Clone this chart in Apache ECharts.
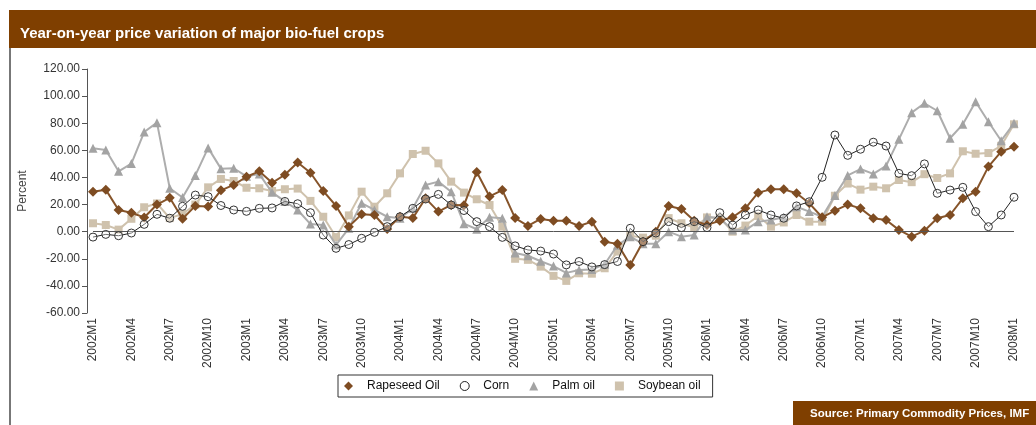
<!DOCTYPE html>
<html>
<head>
<meta charset="utf-8">
<title>Year-on-year price variation of major bio-fuel crops</title>
<script src="https://cdn.jsdelivr.net/npm/echarts@6/dist/echarts.min.js"></script>
<style>
  html, body { margin: 0; padding: 0; background: #fff; }
  #main { width: 1036px; height: 425px; }
</style>
</head>
<body>
<div id="main"></div>
<script>
// monthly categories 2002M1 .. 2008M1
var months = [];
for (var y = 2002; y <= 2008; y++) {
    for (var m = 1; m <= 12; m++) {
        if (y === 2008 && m > 1) break;
        months.push(y + 'M' + m);
    }
}

// year-on-year change, percent
var rapeseed = [29.5, 31, 16, 14, 10.5, 20, 25, 9.5, 19, 18.5,
    30.5, 34.5, 40.5, 44.5, 36, 42, 51, 43.5, 30, 19,
    3.7, 12.8, 12.3, 2, 11, 10, 24.6, 14.8, 19.7, 19.5,
    44, 26, 30.7, 10, 4.2, 9.4, 8.1, 8.1, 4.2, 7.4,
    -7.4, -9, -24.6, -7.4, 0, 19, 16.7, 8.1, 5, 8.1,
    10.6, 17.2, 28.8, 31.2, 31.2, 28.3, 20.9, 10.6, 15.5, 20,
    17.2, 9.9, 8.6, 1.3, -3.7, 0.7, 9.9, 12.3, 24.6, 29.5,
    48, 59, 62.7];

var corn = [-4, -2, -3, -1, 5.4, 12.8, 9.9, 18.7, 27, 25.8,
    19.3, 16, 15, 17.2, 17.5, 22.3, 20.6, 14, -2.5, -12.3,
    -9.5, -4.9, -0.5, 3.7, 11, 17.2, 24.1, 27.5, 19.7, 15.6,
    7.4, 3.7, -4.2, -10.5, -13.5, -14.3, -16.5, -24.5, -22, -26,
    -24.3, -22, 2.5, -7.4, -1, 7.4, 3, 7.4, 3, 14,
    4.9, 12.3, 16, 12.3, 9.9, 19, 22.1, 40.1, 71.3, 56.3,
    60.8, 66, 63.2, 43, 41.3, 50, 28.3, 30.7, 32.7, 14.8,
    3.7, 12.3, 25.4];

var palm = [61.5, 60.2, 44.5, 50.2, 73.5, 80.4, 32, 25.2, 41.5, 61.8,
    46.5, 46.8, 40.8, 42.5, 29, 22.3, 16, 5.6, 5, -9.8,
    2.5, 21, 16, 11, 9.9, 17.2, 34.4, 36.9, 29.5, 5.9,
    1.8, 10.6, 9.9, -15.7, -17.8, -21.8, -25.4, -30.4, -28.3, -28,
    -24, -10, -3.7, -9, -9, 0, -3.7, -2.5, 11, 9.9,
    1.2, 1.2, 7.4, 8.6, 10.6, 18.4, 14.8, 11, 26.6, 41.5,
    46.2, 42.6, 48.5, 68.1, 87.8, 94.7, 89.2, 68.9, 79.2, 95.9,
    81.1, 67.1, 80];

var soybean = [6.2, 4.9, 1.5, 9.5, 18, 20.8, 10, 13, 20, 32.7,
    38.9, 37.4, 32.4, 32, 30, 31.3, 31.8, 22.7, 11, -4,
    12, 29.5, 18.4, 28.3, 43, 57.3, 59.7, 50.4, 36.9, 28.8,
    23.9, 19.7, 3.7, -20, -20.8, -25.8, -32.6, -36.3, -30.7, -31,
    -27, -14.7, -3, -4.4, -3, 10, 6.2, 3, 10.5, 10.2,
    0, 4.5, 11.6, 3.7, 6.8, 12.3, 7.4, 7.4, 26.5, 35.5,
    31, 33.2, 32, 38.1, 36.5, 42.4, 39.6, 43, 59.3, 57.5,
    58, 63.3, 79.2];

var yTicks = [-60, -40, -20, 0, 20, 40, 60, 80, 100, 120];

var font = '"Liberation Sans", Arial, sans-serif';

var chart = echarts.init(document.getElementById('main'));

var option = {
    backgroundColor: '#fff',
    animation: false,
    textStyle: { fontFamily: font },
    graphic: [
        // title bar
        { type: 'rect', left: 9, top: 10, shape: { width: 1027, height: 38 },
          style: { fill: '#7f3f00' }, silent: true },
        { type: 'text', left: 20, top: 26,
          style: { text: 'Year-on-year price variation of major bio-fuel crops',
                   fill: '#fff', font: 'bold 15px ' + font } },
        // left border of the panel
        { type: 'rect', left: 9, top: 48, shape: { width: 2, height: 377 },
          style: { fill: '#777' }, silent: true },
        // source box
        { type: 'rect', left: 793, top: 401, shape: { width: 243, height: 24 },
          style: { fill: '#7f3f00' }, silent: true },
        { type: 'text', left: 810, top: 408,
          style: { text: 'Source: Primary Commodity Prices, IMF',
                   fill: '#fff', font: 'bold 11.5px ' + font } }
    ],
    legend: {
        left: 338,
        top: 375,
        width: 380,
        itemWidth: 9,
        itemHeight: 9,
        itemGap: 20,
        padding: [5, 12, 5, 6],
        borderColor: '#333',
        borderWidth: 1,
        textStyle: { fontSize: 12, color: '#111', padding: [0, 0, 0, 9] },
        data: [
            { name: 'Rapeseed Oil', icon: 'diamond' },
            { name: 'Corn', icon: 'circle', itemStyle: { color: '#fff', borderColor: '#222', borderWidth: 1 } },
            { name: 'Palm oil', icon: 'triangle' },
            { name: 'Soybean oil', icon: 'rect' }
        ]
    },
    grid: { left: 93, right: 22, top: 69, bottom: 112 },
    xAxis: {
        type: 'category',
        data: months,
        boundaryGap: false,
        axisLine: { show: false },
        axisTick: { show: false },
        axisLabel: {
            interval: 2,
            rotate: 90,
            fontSize: 12,
            color: '#333',
            margin: 5
        },
        splitLine: { show: false }
    },
    yAxis: {
        type: 'value',
        min: yTicks[0],
        max: yTicks[yTicks.length - 1],
        interval: 20,
        offset: 6,
        name: 'Percent',
        nameLocation: 'middle',
        nameGap: 58,
        nameRotate: 90,
        nameTextStyle: { fontSize: 12, color: '#444' },
        axisLine: { show: true, lineStyle: { color: '#555', width: 1 } },
        axisTick: { show: true, length: 5, lineStyle: { color: '#555' } },
        axisLabel: {
            fontSize: 12,
            color: '#333',
            margin: 7,
            formatter: function (v) { return v.toFixed(2); }
        },
        splitLine: { show: false }
    },
    series: [
        {
            name: 'Soybean oil', type: 'line', data: soybean, z: 2,
            symbol: 'rect', symbolSize: 8, showAllSymbol: true,
            lineStyle: { color: '#cfc2ad', width: 2 },
            itemStyle: { color: '#cfc2ad' },
            markLine: {
                silent: true, symbol: ['none', 'none'], label: { show: false },
                lineStyle: { color: '#555', width: 1, type: 'solid' },
                data: [{ yAxis: 0 }]
            }
        },
        {
            name: 'Palm oil', type: 'line', data: palm, z: 3,
            symbol: 'triangle', symbolSize: 9, showAllSymbol: true,
            lineStyle: { color: '#adadad', width: 2 },
            itemStyle: { color: '#a3a3a3' }
        },
        {
            name: 'Rapeseed Oil', type: 'line', data: rapeseed, z: 4,
            symbol: 'diamond', symbolSize: 10, showAllSymbol: true,
            lineStyle: { color: '#86542a', width: 2 },
            itemStyle: { color: '#7e4c22' }
        },
        {
            name: 'Corn', type: 'line', data: corn, z: 5,
            symbol: 'circle', symbolSize: 8, showAllSymbol: true,
            lineStyle: { color: '#222', width: 1 },
            itemStyle: { color: 'rgba(255,255,255,0.35)', borderColor: '#333', borderWidth: 1 }
        }
    ]
};

chart.setOption(option);
</script>
</body>
</html>
